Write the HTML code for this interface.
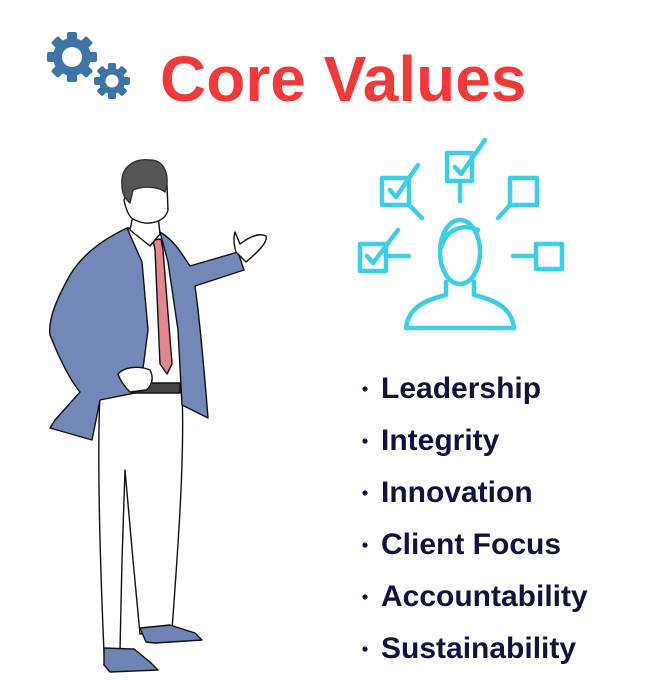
<!DOCTYPE html>
<html><head><meta charset="utf-8"><style>
html,body{margin:0;padding:0;background:#fff;}
#root{position:relative;width:660px;height:680px;overflow:hidden;font-family:"Liberation Sans",sans-serif;}
svg{position:absolute;left:0;top:0;}
</style></head><body>
<div id="root">
<svg width="660" height="680" viewBox="0 0 660 680">
  <g fill="#3e73a5">
    <g transform="translate(72,57)">
      <circle r="19"/>
      <g><rect x="-5" y="-25" width="10" height="10" rx="2"/><rect x="-5" y="15" width="10" height="10" rx="2"/><rect x="-25" y="-5" width="10" height="10" rx="2"/><rect x="15" y="-5" width="10" height="10" rx="2"/></g>
      <g transform="rotate(45)"><rect x="-5" y="-25" width="10" height="10" rx="2"/><rect x="-5" y="15" width="10" height="10" rx="2"/><rect x="-25" y="-5" width="10" height="10" rx="2"/><rect x="15" y="-5" width="10" height="10" rx="2"/></g>
      <circle r="10" fill="#fff"/>
    </g>
    <g transform="translate(112,81)">
      <circle r="13"/>
      <g><rect x="-4" y="-18" width="8" height="8" rx="2"/><rect x="-4" y="10" width="8" height="8" rx="2"/><rect x="-18" y="-4" width="8" height="8" rx="2"/><rect x="10" y="-4" width="8" height="8" rx="2"/></g>
      <g transform="rotate(45)"><rect x="-4" y="-18" width="8" height="8" rx="2"/><rect x="-4" y="10" width="8" height="8" rx="2"/><rect x="-18" y="-4" width="8" height="8" rx="2"/><rect x="10" y="-4" width="8" height="8" rx="2"/></g>
      <circle r="6.5" fill="#fff"/>
    </g>
  </g>
  <text x="160" y="101" font-family="Liberation Sans, sans-serif" font-weight="bold" font-size="64" fill="#f03a3a">Core Values</text>

  <g stroke="#111" stroke-width="1.4" stroke-linejoin="round">
    <path fill="#fff" d="M100,392 L182,392 C185,460 177,560 172,630 L140,634 L133,560 L125,470 L122,560 L120,650 L104,652 C100,560 97,460 100,392 Z"/>
    <path fill="#fff" d="M128,228 L160,232 L180,260 L182,392 L130,392 L135,300 Z"/>
    <path fill="#6f84b3" d="M104,648 L134,649 L150,662 L158,670 L110,672 L104,665 Z"/>
    <path fill="#6f84b3" d="M140,628 L170,625 L195,633 L202,640 L155,643 L146,642 Z"/>
    <path fill="#7388b8" d="M127,228 C110,236 85,250 70,275 C56,300 48,320 50,335 C60,360 70,380 80,392 L55,420 L50,428 L92,440 L100,400 L140,392 L148,330 L142,262 Z"/>
    <path fill="#7388b8" d="M160,232 C174,240 182,254 190,266 L238,252 L244,270 L195,286 C200,322 205,380 208,418 L182,405 L178,330 L168,262 Z"/>
    <path fill="#fff" d="M236,252 C234,245 233,238 235,232 L240,244 C248,238 258,232 266,236 C268,242 258,252 246,262 Z"/>
    <path fill="#e2868f" d="M153,240 L161,239 L163,250 L172,364 L167,374 L160,364 L155,250 Z"/>
    <rect x="132" y="383" width="48" height="10" fill="#444"/>
    <path fill="#fff" d="M118,374 C125,366 140,366 150,370 C154,378 152,386 146,390 L130,392 C124,386 120,380 118,374 Z"/>
    <path fill="#fff" d="M133,215 L158,215 L160,234 L150,246 L130,230 Z"/>
    <path fill="#fff" d="M128,190 C130,176 160,172 167,185 L168,210 C165,222 150,225 140,222 L135,220 C128,218 125,205 124,200 Z"/>
    <path fill="#555" stroke="#333" d="M122,186 C120,166 135,158 150,160 C162,160 168,170 167,184 L165,192 C158,186 143,186 133,190 L130,203 C124,198 122,192 122,186 Z"/>
  </g>

  <g fill="none" stroke="#3ecde5" stroke-width="4.5" stroke-linecap="round" stroke-linejoin="round">
    <rect x="447" y="153" width="25" height="28"/><line x1="460" y1="182" x2="460" y2="201"/>
    <path d="M455,167 L461,174 L485,140"/>
    <rect x="382" y="178" width="27" height="27"/><line x1="409" y1="205" x2="422" y2="218"/>
    <path d="M390,190 L396,197 L418,165"/>
    <rect x="510" y="178" width="27" height="27"/><line x1="510" y1="205" x2="498" y2="218"/>
    <rect x="360" y="244" width="26" height="27"/><line x1="387" y1="256" x2="409" y2="256"/>
    <path d="M367,256 L373,263 L398,230"/>
    <rect x="536" y="244" width="26" height="25"/><line x1="513" y1="256" x2="535" y2="256"/>
    <ellipse cx="460" cy="252" rx="20" ry="32"/>
    <path d="M441,248 C445,232 460,222 478,230"/>
    <path d="M446,282 L446,295 C425,300 408,308 406,328 L514,328 C512,308 495,300 474,295 L474,282"/>
  </g>

  <g font-family="Liberation Sans, sans-serif" font-weight="bold" font-size="30" fill="#12123e">
    <g><circle cx="365" cy="389" r="2.6"/><text x="381" y="398">Leadership</text></g>
    <g><circle cx="365" cy="441" r="2.6"/><text x="381" y="450">Integrity</text></g>
    <g><circle cx="365" cy="493" r="2.6"/><text x="381" y="502">Innovation</text></g>
    <g><circle cx="365" cy="545" r="2.6"/><text x="381" y="554">Client Focus</text></g>
    <g><circle cx="365" cy="597" r="2.6"/><text x="381" y="606">Accountability</text></g>
    <g><circle cx="365" cy="649" r="2.6"/><text x="381" y="658">Sustainability</text></g>
  </g>
</svg>
</div>
</body></html>
